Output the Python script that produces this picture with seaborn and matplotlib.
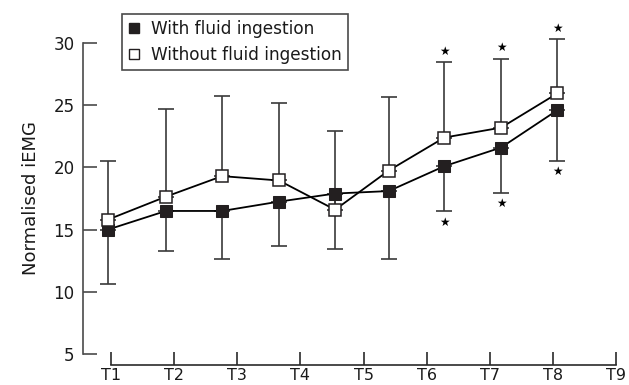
import matplotlib
matplotlib.use("Agg")
import matplotlib.pyplot as plt
import numpy as np
import pandas as pd
import seaborn as sns
from matplotlib.lines import Line2D

# ---- data ----
time_points = [0.95, 1.87, 2.76, 3.66, 4.55, 5.40, 6.28, 7.18, 8.07]
with_fluid = [15.0, 16.5, 16.5, 17.25, 17.9, 18.1, 20.1, 21.6, 24.6]
with_fluid_sd = [4.37, 3.25, 3.86, 3.57, 4.48, 5.43, 3.61, 3.62, 4.07]
without_fluid = [15.8, 17.65, 19.3, 18.95, 16.6, 19.75, 22.4, 23.2, 25.95]
without_fluid_sd = [4.73, 7.05, 6.48, 6.21, 6.35, 5.9, 6.04, 5.55, 4.35]
significant = [False, False, False, False, False, False, True, True, True]
x_tick_labels = ["T1", "T2", "T3", "T4", "T5", "T6", "T7", "T8", "T9"]
x_tick_pos = [1, 2, 3, 4, 5, 6, 7, 8, 9]
y_ticks = [5, 10, 15, 20, 25, 30]
series_names = ["With fluid ingestion", "Without fluid ingestion"]

sns.set_style("white")
plt.rcParams["font.family"] = ["DejaVu Sans"]
plt.rcParams["text.color"] = "#1a1a1a"
plt.rcParams["axes.labelcolor"] = "#1a1a1a"
plt.rcParams["xtick.labelcolor"] = "#1a1a1a"
plt.rcParams["ytick.labelcolor"] = "#1a1a1a"

df = pd.DataFrame({
    "time": time_points * 2,
    "value": with_fluid + without_fluid,
    "group": [series_names[0]] * len(time_points) + [series_names[1]] * len(time_points),
})

fig = plt.figure(figsize=(6.29, 3.85), dpi=100)
ax = fig.add_axes([83 / 629, 20 / 385, 537 / 629, 365 / 385])

ecol = "#3a3a3a"
# one-sided error bars: "with" downward, "without" upward
ax.errorbar(time_points, with_fluid,
            yerr=[with_fluid_sd, [0] * len(with_fluid_sd)],
            fmt="none", ecolor=ecol, elinewidth=1.2, capsize=5.5, capthick=1.2, zorder=1)
ax.errorbar(time_points, without_fluid,
            yerr=[[0] * len(without_fluid_sd), without_fluid_sd],
            fmt="none", ecolor=ecol, elinewidth=1.2, capsize=5.5, capthick=1.2, zorder=1)

sns.lineplot(data=df, x="time", y="value", hue="group", style="group",
             palette={series_names[0]: "black", series_names[1]: "black"},
             markers={series_names[0]: "s", series_names[1]: "s"},
             dashes=False, linewidth=1.3, markersize=8, ax=ax, legend=False, zorder=3)

seaborn_lines = [ln for ln in ax.get_lines() if ln.get_marker() == "s"]
if len(seaborn_lines) >= 2:
    seaborn_lines[0].set_markerfacecolor("#231f20")
    seaborn_lines[0].set_markeredgecolor("#231f20")
    seaborn_lines[1].set_markerfacecolor("white")
    seaborn_lines[1].set_markeredgecolor("#231f20")
    seaborn_lines[1].set_markeredgewidth(1.1)

# significance stars
for i, sig in enumerate(significant):
    if sig:
        ax.annotate("★", (time_points[i], without_fluid[i] + without_fluid_sd[i]),
                    xytext=(0, 8), textcoords="offset points", ha="center", va="center",
                    fontsize=8.5, color="black")
        ax.annotate("★", (time_points[i], with_fluid[i] - with_fluid_sd[i]),
                    xytext=(0, -8), textcoords="offset points", ha="center", va="center",
                    fontsize=8.5, color="black")

ax.set_xlim(0.5564, 9.063)
ax.set_ylim(4.116, 33.46)
ax.set_xticks(x_tick_pos)
ax.set_xticklabels(x_tick_labels)
ax.set_yticks(y_ticks)
ax.set_xlabel("")
ax.set_ylabel("Normalised iEMG", fontsize=13)
ax.yaxis.set_label_coords(-0.08, 0.4575)

for s in ["top", "right"]:
    ax.spines[s].set_visible(False)
ax.spines["left"].set_bounds(5, 30)
ax.spines["bottom"].set_bounds(1, 9)
ax.spines["left"].set_color("#4a4a4a")
ax.spines["bottom"].set_color("#2a2a2a")
ax.spines["left"].set_linewidth(1.2)
ax.spines["bottom"].set_linewidth(1.2)
ax.tick_params(axis="y", direction="in", length=10, width=1.2, color="#4a4a4a",
               labelsize=12, pad=6, left=True)
ax.tick_params(axis="x", direction="in", length=9.5, width=1.2, color="#2a2a2a",
               labelsize=11.5, pad=2, bottom=True)

handles = [
    Line2D([], [], marker="s", linestyle="none", markersize=7.5,
           markerfacecolor="#231f20", markeredgecolor="#231f20"),
    Line2D([], [], marker="s", linestyle="none", markersize=7.5,
           markerfacecolor="white", markeredgecolor="#231f20", markeredgewidth=1),
]
leg = fig.legend(handles, series_names, loc="upper left",
                 bbox_to_anchor=(121.7 / 629, 1 - 14 / 385),
                 bbox_transform=fig.transFigure, borderaxespad=0,
                 frameon=True, fancybox=False, framealpha=1, fontsize=12.2,
                 handlelength=0.8, handletextpad=0.6, borderpad=0.35,
                 labelspacing=0.5)
leg.get_frame().set_edgecolor("#4a4a4a")
leg.get_frame().set_linewidth(1.2)

fig.savefig("out.png", dpi=100)
